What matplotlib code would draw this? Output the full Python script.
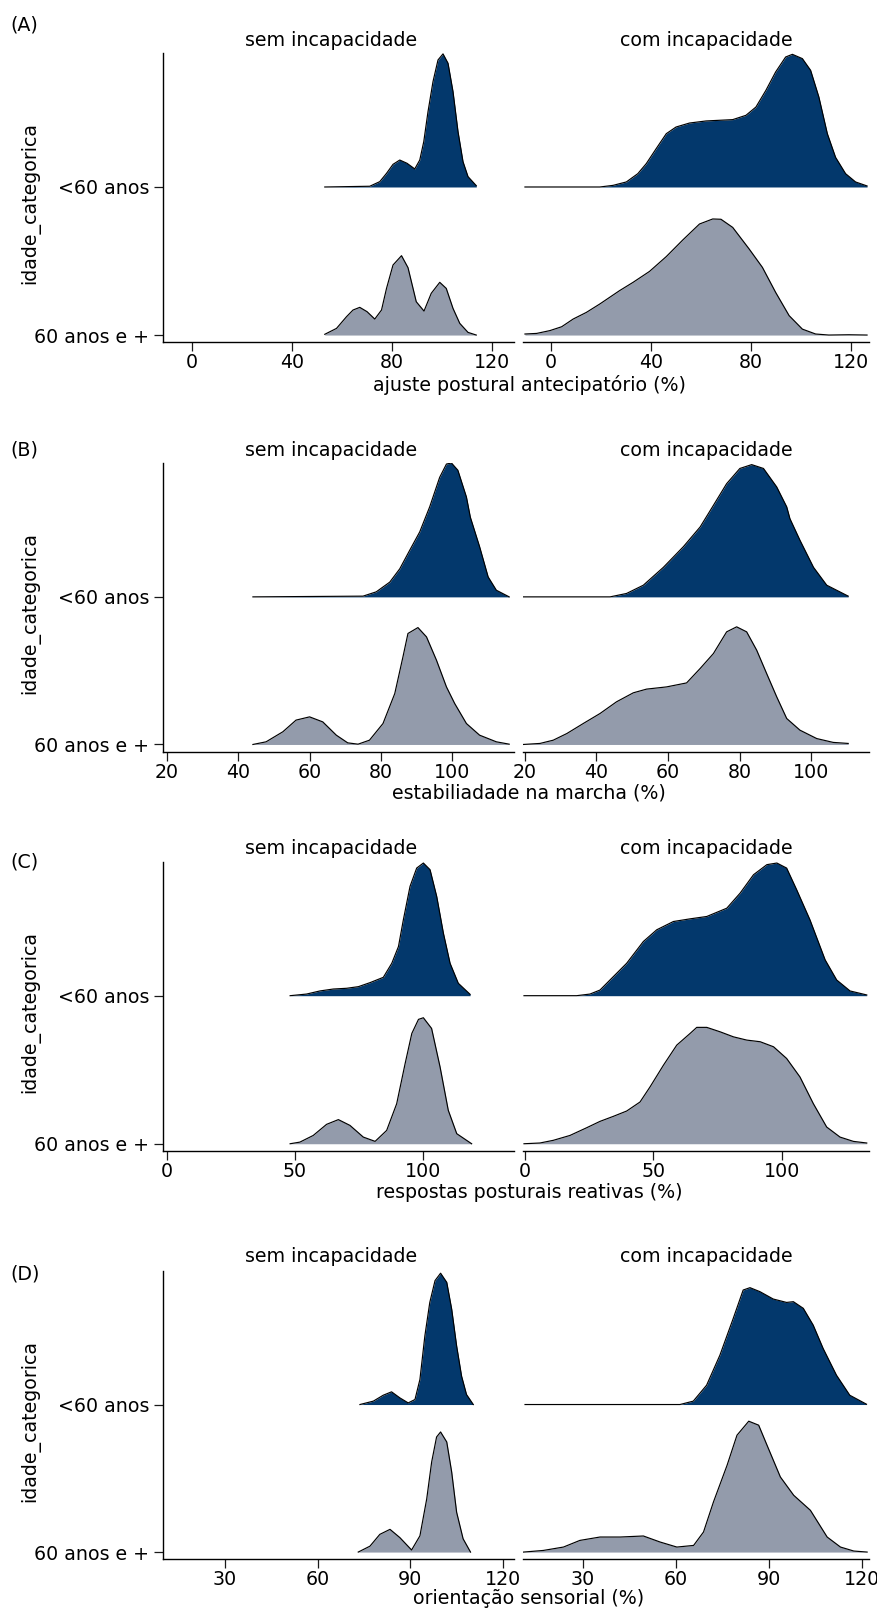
import matplotlib
matplotlib.use("Agg")
import matplotlib.pyplot as plt

plt.rcParams["font.family"] = ["DejaVu Sans"]

# ---- data (density heights, in units of ridge spacing) ----
grupos = ["60 anos e +", "<60 anos"]
facetas = ["sem incapacidade", "com incapacidade"]

# (A) ajuste postural antecipatorio
a_sem_jovem_x = [53.0, 71.0, 75.0, 77.7, 80.3, 83.0, 85.9, 89.0, 91.0, 92.6, 94.3, 96.3, 98.3, 100.3,
                 102.3, 104.3, 106.3, 108.3, 110.3, 113.6]
a_sem_jovem_h = [0, 0.005, 0.036, 0.092, 0.153, 0.182, 0.16, 0.122, 0.182, 0.306, 0.509, 0.712, 0.858,
                 0.899, 0.836, 0.644, 0.374, 0.171, 0.07, 0.009]
a_sem_idoso_x = [53.0, 57.7, 61.7, 64.3, 67.0, 69.9, 73.0, 75.7, 77.7, 80.3, 83.7, 86.3, 89.6, 92.7, 95.6,
                 99.0, 101.6, 104.3, 107.0, 110.3, 113.6]
a_sem_idoso_h = [0.005, 0.045, 0.124, 0.169, 0.187, 0.158, 0.108, 0.169, 0.315, 0.473, 0.536, 0.455,
                 0.225, 0.162, 0.282, 0.356, 0.315, 0.18, 0.079, 0.018, 0.0]
a_com_jovem_x = [-10.4, 19.6, 24.9, 30.2, 34.8, 38.2, 42.2, 46.2, 50.1, 55.5, 62.1, 72.8, 78.1, 82.1, 86.1,
                 90.0, 94.0, 96.7, 100.7, 104.0, 107.3, 110.7, 114.0, 118.0, 122.0, 126.6]
a_com_jovem_h = [0, 0, 0.011, 0.034, 0.09, 0.158, 0.26, 0.36, 0.405, 0.432, 0.446, 0.455, 0.484, 0.54, 0.653,
                 0.777, 0.878, 0.896, 0.867, 0.788, 0.608, 0.36, 0.2, 0.09, 0.034, 0.007]
a_com_idoso_x = [-10.4, -5.7, -0.4, 4.3, 8.9, 14.2, 19.6, 27.5, 32.9, 39.5, 46.2, 52.8, 59.5, 64.8, 68.1,
                 72.8, 79.4, 84.7, 90.0, 95.4, 100.7, 106.0, 111.3, 119.3, 126.6]
a_com_idoso_h = [0.007, 0.011, 0.03, 0.056, 0.108, 0.153, 0.21, 0.3, 0.356, 0.43, 0.53, 0.642, 0.75, 0.784,
                 0.782, 0.727, 0.581, 0.457, 0.288, 0.131, 0.04, 0.007, 0.0, 0.002, 0.0]

# (B) estabilidade na marcha
b_sem_jovem_x = [44.1, 75.0, 78.7, 82.5, 85.3, 88.1, 90.9, 93.7, 96.5, 98.4, 99.8, 101.6, 104.0, 105.1,
                 107.7, 110.1, 112.4, 116.0]
b_sem_jovem_h = [0, 0.005, 0.034, 0.1, 0.19, 0.316, 0.44, 0.61, 0.81, 0.9, 0.907, 0.858, 0.677, 0.54,
                 0.34, 0.135, 0.045, 0]
b_sem_idoso_x = [44.1, 47.8, 52.5, 56.2, 60.0, 63.7, 67.5, 70.7, 73.6, 76.8, 80.6, 83.9, 86.2, 87.6, 90.4,
                 92.8, 95.6, 98.4, 100.7, 104.0, 107.7, 112.4, 116.0]
b_sem_idoso_h = [0, 0.018, 0.086, 0.165, 0.187, 0.153, 0.063, 0.011, 0.002, 0.029, 0.142, 0.345, 0.594,
                 0.752, 0.792, 0.729, 0.571, 0.39, 0.278, 0.142, 0.063, 0.018, 0.002]
b_com_jovem_x = [19.5, 40.0, 43.8, 48.4, 53.1, 58.7, 64.3, 69.0, 72.7, 76.4, 80.1, 83.4, 86.7, 90.4, 93.2,
                 94.1, 96.9, 100.7, 104.4, 110.4]
b_com_jovem_h = [0, 0, 0, 0.023, 0.079, 0.2, 0.34, 0.474, 0.62, 0.767, 0.87, 0.896, 0.87, 0.745, 0.61,
                 0.53, 0.384, 0.2, 0.079, 0.005]
b_com_idoso_x = [19.5, 24.2, 27.9, 31.7, 36.3, 41.0, 45.6, 50.3, 54.0, 59.6, 65.2, 69.0, 72.7, 76.4, 79.2,
                 82.0, 84.8, 87.6, 90.4, 93.2, 96.9, 101.6, 106.2, 110.4]
b_com_idoso_h = [0, 0.007, 0.029, 0.074, 0.142, 0.21, 0.289, 0.35, 0.375, 0.39, 0.417, 0.515, 0.616, 0.763,
                 0.797, 0.763, 0.639, 0.48, 0.323, 0.176, 0.097, 0.04, 0.014, 0.007]

# (C) respostas posturais reativas
c_sem_jovem_x = [48.1, 54.5, 59.7, 64.9, 70.1, 74.7, 79.2, 84.4, 87.7, 90.3, 92.2, 94.8, 97.4, 100.0,
                 102.6, 105.2, 107.8, 110.4, 113.6, 118.2]
c_sem_jovem_h = [0, 0.011, 0.032, 0.045, 0.05, 0.061, 0.088, 0.124, 0.219, 0.332, 0.512, 0.738, 0.862,
                 0.896, 0.851, 0.67, 0.422, 0.219, 0.084, 0.009]
c_sem_idoso_x = [48.1, 51.9, 57.1, 62.3, 66.9, 71.4, 76.6, 81.2, 85.7, 89.6, 92.9, 95.5, 98.1, 100.0,
                 103.2, 106.5, 109.7, 113.0, 118.8]
c_sem_idoso_h = [0, 0.011, 0.056, 0.131, 0.163, 0.124, 0.045, 0.016, 0.09, 0.27, 0.542, 0.745, 0.84,
                 0.851, 0.779, 0.519, 0.226, 0.068, 0]
c_com_jovem_x = [-0.4, 20.1, 25.3, 29.2, 33.1, 39.6, 46.1, 51.3, 57.8, 64.3, 70.8, 78.6, 83.8, 89.0, 94.2,
                 98.1, 101.9, 105.8, 111.0, 116.9, 121.4, 126.6, 133.1]
c_com_jovem_h = [0, 0, 0.011, 0.038, 0.106, 0.219, 0.366, 0.445, 0.501, 0.519, 0.535, 0.591, 0.693, 0.817,
                 0.885, 0.896, 0.862, 0.716, 0.512, 0.242, 0.106, 0.032, 0.005]
c_com_idoso_x = [-0.4, 5.8, 11.0, 17.5, 24.0, 29.2, 34.4, 39.6, 44.8, 48.7, 53.9, 59.1, 64.3, 66.9, 70.8,
                 76.0, 81.2, 86.4, 91.6, 96.8, 101.9, 107.1, 112.3, 117.5, 122.7, 127.9, 133.1]
c_com_idoso_h = [0, 0.005, 0.023, 0.056, 0.108, 0.151, 0.185, 0.221, 0.282, 0.384, 0.53, 0.666, 0.745,
                 0.786, 0.786, 0.756, 0.722, 0.7, 0.689, 0.655, 0.576, 0.451, 0.271, 0.113, 0.045, 0.016,
                 0.005]

# (D) orientacao sensorial
d_sem_jovem_x = [73.75, 78.1, 81.3, 84.0, 86.7, 89.4, 91.6, 93.2, 94.8, 96.4, 98.1, 99.9, 101.9, 103.5,
                 105.1, 106.7, 108.3, 110.5]
d_sem_jovem_h = [0, 0.023, 0.063, 0.086, 0.045, 0.011, 0.034, 0.17, 0.465, 0.692, 0.84, 0.89, 0.828,
                 0.646, 0.397, 0.193, 0.068, 0]
d_sem_idoso_x = [73.2, 77.0, 80.2, 83.5, 86.7, 90.5, 93.2, 95.4, 97.0, 98.6, 99.9, 101.9, 103.5, 105.1,
                 107.2, 109.6]
d_sem_idoso_h = [0, 0.04, 0.12, 0.154, 0.098, 0.014, 0.11, 0.36, 0.61, 0.78, 0.814, 0.746, 0.542, 0.27,
                 0.09, 0]
d_com_jovem_x = [11.4, 61.4, 65.7, 70.0, 74.3, 78.6, 81.8, 84.0, 87.2, 91.5, 95.8, 98.0, 101.2, 104.4,
                 107.6, 111.9, 116.2, 121.6]
d_com_jovem_h = [0, 0, 0.023, 0.131, 0.335, 0.584, 0.776, 0.792, 0.765, 0.715, 0.692, 0.697, 0.652, 0.538,
                 0.38, 0.199, 0.063, 0.002]
d_com_idoso_x = [10.9, 17.3, 23.8, 29.1, 35.6, 42.1, 49.6, 55.0, 60.4, 65.8, 69.0, 72.2, 76.6, 79.8, 83.6,
                 86.8, 89.5, 93.8, 98.1, 103.5, 108.9, 113.2, 117.5, 121.8]
d_com_idoso_h = [0, 0.011, 0.034, 0.079, 0.102, 0.102, 0.109, 0.068, 0.034, 0.045, 0.136, 0.339, 0.588,
                 0.792, 0.887, 0.86, 0.724, 0.509, 0.385, 0.283, 0.102, 0.034, 0.007, 0]

tags = ["(A)", "(B)", "(C)", "(D)"]
xlabels = ["ajuste postural antecipatório (%)", "estabiliadade na marcha (%)",
           "respostas posturais reativas (%)", "orientação sensorial (%)"]
xticks = [[0, 40, 80, 120], [20, 40, 60, 80, 100], [0, 50, 100], [30, 60, 90, 120]]

curvas = [
    [[(a_sem_idoso_x, a_sem_idoso_h), (a_sem_jovem_x, a_sem_jovem_h)],
     [(a_com_idoso_x, a_com_idoso_h), (a_com_jovem_x, a_com_jovem_h)]],
    [[(b_sem_idoso_x, b_sem_idoso_h), (b_sem_jovem_x, b_sem_jovem_h)],
     [(b_com_idoso_x, b_com_idoso_h), (b_com_jovem_x, b_com_jovem_h)]],
    [[(c_sem_idoso_x, c_sem_idoso_h), (c_sem_jovem_x, c_sem_jovem_h)],
     [(c_com_idoso_x, c_com_idoso_h), (c_com_jovem_x, c_com_jovem_h)]],
    [[(d_sem_idoso_x, d_sem_idoso_h), (d_sem_jovem_x, d_sem_jovem_h)],
     [(d_com_idoso_x, d_com_idoso_h), (d_com_jovem_x, d_com_jovem_h)]],
]

# ---- layout (pixels) ----
W, H = 877, 1611
cores = ["#939BAB", "#03386C"]
tops = [53, 463.3, 861.7, 1271]
bottoms = [342.3, 751.7, 1151, 1559.3]
tag_y = [25, 450, 862, 1274]
strip_y = [40, 450, 848, 1256]
xlab_y = [385, 793, 1192, 1599]
facet_x = [(163.3, 514), (522.7, 869.3)]
xlims = [[(-11.6, 128.7), (-11.3, 127.5)],
         [(18.96, 117.35), (19.36, 116.3)],
         [(-1.3, 135.3), (-0.9, 134.1)],
         [(10.0, 123.7), (10.65, 122.5)]]
strip_x = [331, 706]
FS = 13.7

fig = plt.figure(figsize=(W / 100, H / 100), dpi=100)

for p in range(4):
    for f in range(2):
        x0, x1 = facet_x[f]
        ax = fig.add_axes([x0 / W, 1 - bottoms[p] / H, (x1 - x0) / W, (bottoms[p] - tops[p]) / H])
        for g in range(2):
            xs, hs = curvas[p][f][g]
            base = g + 1
            topo = [base + v for v in hs]
            ax.fill_between(xs, base, topo, color=cores[g], lw=0, zorder=2)
            ax.plot(xs, topo, color="black", lw=0.85, zorder=3, solid_joinstyle="round")
        ax.set_xlim(*xlims[p][f])
        ax.set_ylim(0.951, 2.905)
        ax.set_xticks(xticks[p])
        ax.tick_params(axis="both", length=6.5, width=0.9, labelsize=FS, color="#1a1a1a")
        ax.tick_params(axis="x", pad=1.5)
        ax.tick_params(axis="y", pad=3.5)
        ax.spines["top"].set_visible(False)
        ax.spines["right"].set_visible(False)
        ax.spines["bottom"].set_linewidth(1.0)
        if f == 0:
            ax.set_yticks([1, 2])
            ax.set_yticklabels(grupos)
            ax.spines["left"].set_linewidth(1.0)
        else:
            ax.spines["left"].set_visible(False)
            ax.set_yticks([])
        fig.text(strip_x[f] / W, 1 - strip_y[p] / H, facetas[f], ha="center", va="center", fontsize=FS)
    fig.text(10 / W, 1 - tag_y[p] / H, tags[p], ha="left", va="center", fontsize=FS)
    fig.text(529 / W, 1 - xlab_y[p] / H, xlabels[p], ha="center", va="center", fontsize=FS)
    fig.text(30 / W, 1 - (tops[p] + 150) / H, "idade_categorica", rotation=90,
             ha="center", va="center", fontsize=FS)

fig.savefig("out.png", dpi=100)
plt.close(fig)
